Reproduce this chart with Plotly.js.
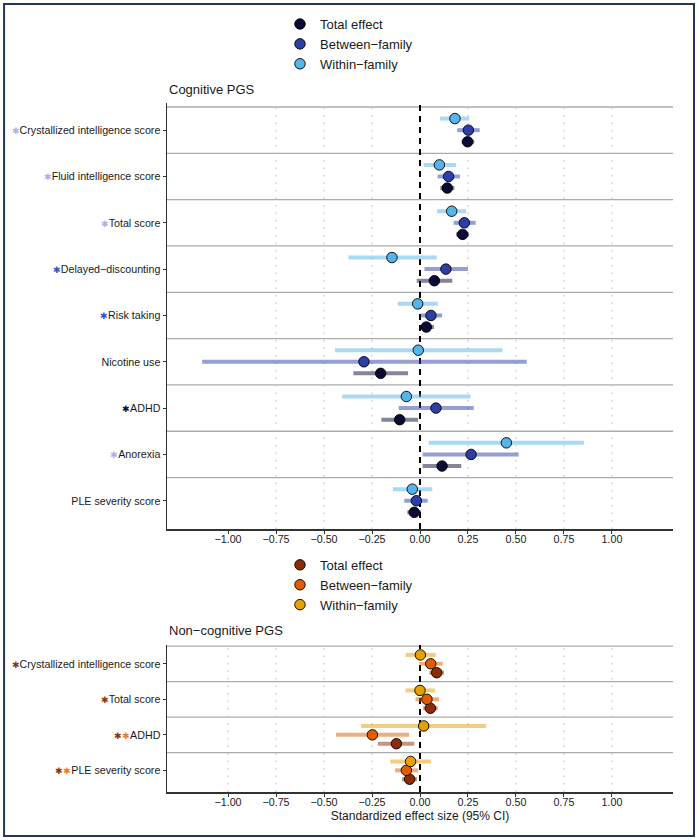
<!DOCTYPE html>
<html>
<head>
<meta charset="utf-8">
<script src="https://cdn.plot.ly/plotly-3.0.1.min.js"></script>
<style>
  body { margin: 0; background: #fff; }
  #chart { width: 698px; height: 840px; }
</style>
</head>
<body>
<div id="chart"></div>
<script>
// Outcomes (top to bottom) and significance markers
const cogOutcomes = ['Crystallized intelligence score', 'Fluid intelligence score', 'Total score',
  'Delayed\u2212discounting', 'Risk taking', 'Nicotine use', 'ADHD', 'Anorexia', 'PLE severity score'];
const cogSig = ['L', 'L', 'L', 'B', 'B', '', 'T', 'L', ''];

const ncOutcomes = ['Crystallized intelligence score', 'Total score', 'ADHD', 'PLE severity score'];
const ncSig = ['T', 'T', 'TB', 'TB'];

// Cognitive PGS estimates (standardized effect, 95% CI)
const cogTotal   = [0.248, 0.142, 0.222, 0.075, 0.033, -0.205, -0.106, 0.115, -0.030];
const cogTotalLo = [0.217, 0.106, 0.188, -0.017, -0.005, -0.347, -0.201, 0.014, -0.066];
const cogTotalHi = [0.283, 0.179, 0.255, 0.168, 0.073, -0.062, -0.010, 0.215, 0.005];

const cogBetween   = [0.252, 0.149, 0.231, 0.135, 0.057, -0.292, 0.083, 0.266, -0.019];
const cogBetweenLo = [0.194, 0.092, 0.175, 0.023, 0.002, -1.135, -0.111, 0.014, -0.082];
const cogBetweenHi = [0.311, 0.208, 0.290, 0.250, 0.115, 0.556, 0.280, 0.514, 0.040];

const cogWithin   = [0.182, 0.101, 0.165, -0.146, -0.012, -0.009, -0.071, 0.450, -0.040];
const cogWithinLo = [0.104, 0.019, 0.089, -0.372, -0.116, -0.443, -0.405, 0.045, -0.141];
const cogWithinHi = [0.257, 0.188, 0.240, 0.087, 0.092, 0.429, 0.264, 0.854, 0.064];

// Non-cognitive PGS estimates
const ncTotal   = [0.087, 0.054, -0.123, -0.054];
const ncTotalLo = [0.049, 0.017, -0.219, -0.094];
const ncTotalHi = [0.125, 0.092, -0.030, -0.016];

const ncBetween   = [0.056, 0.036, -0.248, -0.071];
const ncBetweenLo = [-0.004, -0.023, -0.438, -0.130];
const ncBetweenHi = [0.118, 0.099, -0.057, -0.010];

const ncWithin   = [0.002, 0.000, 0.019, -0.049];
const ncWithinLo = [-0.075, -0.075, -0.307, -0.155];
const ncWithinHi = [0.082, 0.078, 0.344, 0.057];

const xTicks = [-1, -0.75, -0.5, -0.25, 0, 0.25, 0.5, 0.75, 1];

const cogColors = { total: '#0a0a36', between: '#2d3fa6', within: '#56b4e9' };
const ncColors = { total: '#8b2c04', between: '#df5d02', within: '#e6a000' };
const starColors = { L: '#b9a8ee', B: '#3a4fc0', T: '#0a0a36' };
const ncStarColors = { T: '#8b3410', B: '#f07a20' };

function hexA(hex, a) {
  const n = parseInt(hex.slice(1), 16);
  return `rgba(${n >> 16},${(n >> 8) & 255},${n & 255},${a})`;
}

function fmt(v) {
  return (v < 0 ? '\u2212' : '') + Math.abs(v).toFixed(2);
}

function starLabel(name, sig, map) {
  const stars = sig.split('').map(k =>
    `<span style="color:${map[k]};font-size:8.5px">\u2731</span>`).join('');
  return stars + name;
}

function makeTrace(name, est, lo, hi, color, offset, xa, ya, legend) {
  return {
    x: est,
    y: est.map((_, i) => i + offset),
    type: 'scatter',
    mode: 'markers',
    name: name,
    xaxis: xa,
    yaxis: ya,
    legend: legend,
    marker: { size: 10.5, color: color, line: { color: '#000', width: 0.9 } },
    error_x: {
      type: 'data', symmetric: false,
      array: est.map((v, i) => hi[i] - v),
      arrayminus: est.map((v, i) => v - lo[i]),
      color: hexA(color, 0.5), thickness: 4, width: 0
    },
    hoverinfo: 'x+name'
  };
}

const traces = [
  makeTrace('Total effect', cogTotal, cogTotalLo, cogTotalHi, cogColors.total, 0.25, 'x', 'y', 'legend'),
  makeTrace('Between\u2212family', cogBetween, cogBetweenLo, cogBetweenHi, cogColors.between, 0, 'x', 'y', 'legend'),
  makeTrace('Within\u2212family', cogWithin, cogWithinLo, cogWithinHi, cogColors.within, -0.25, 'x', 'y', 'legend'),
  makeTrace('Total effect', ncTotal, ncTotalLo, ncTotalHi, ncColors.total, 0.25, 'x2', 'y2', 'legend2'),
  makeTrace('Between\u2212family', ncBetween, ncBetweenLo, ncBetweenHi, ncColors.between, 0, 'x2', 'y2', 'legend2'),
  makeTrace('Within\u2212family', ncWithin, ncWithinLo, ncWithinHi, ncColors.within, -0.25, 'x2', 'y2', 'legend2')
];

// separators, dotted grid and the zero line
const shapes = [];
function panelShapes(n, xr, yr, gridVals) {
  for (let k = 0; k < n; k++) {
    shapes.push({ type: 'line', layer: 'below', xref: xr + ' domain', yref: yr,
      x0: 0, x1: 1, y0: k - 0.5, y1: k - 0.5, line: { color: '#ababab', width: 1.3 } });
  }
  gridVals.forEach(v => {
    shapes.push({ type: 'line', layer: 'below', xref: xr, yref: yr + ' domain',
      x0: v, x1: v, y0: 0, y1: 1, line: { color: '#c4c4c4', width: 1.2, dash: '1.5px,6px' } });
  });
  shapes.push({ type: 'line', layer: 'below', xref: xr, yref: yr + ' domain',
    x0: 0, x1: 0, y0: 0, y1: 1, line: { color: '#000', width: 2, dash: '6px,5px' } });
}
panelShapes(cogOutcomes.length, 'x', 'y', xTicks.filter(v => v > -1 && v !== 0));
panelShapes(ncOutcomes.length, 'x2', 'y2', xTicks.filter(v => v !== 0));

// outer frame
shapes.push({ type: 'rect', xref: 'paper', yref: 'paper',
  x0: -0.322, x1: 1.0415, y0: -0.0638, y1: 1.1437,
  line: { color: '#24365f', width: 2 }, fillcolor: 'rgba(0,0,0,0)' });

const font = { family: 'Liberation Sans, Arial, sans-serif', size: 10.7, color: '#1a1a1a' };

const xAxisBase = {
  range: [-1.318, 1.318],
  tickmode: 'array', tickvals: xTicks, ticktext: xTicks.map(fmt),
  showgrid: false, zeroline: false,
  showline: true, linecolor: '#333', linewidth: 1.5,
  ticks: 'outside', ticklen: 3, tickcolor: '#333', tickwidth: 1,
  ticklabelstandoff: -3,
  tickfont: { size: 10.7, color: '#1a1a1a' },
  fixedrange: true
};
const yAxisBase = {
  showgrid: false, zeroline: false,
  showline: true, linecolor: '#333', linewidth: 1.5,
  ticks: 'outside', ticklen: 3, tickcolor: '#333', tickwidth: 1,
  tickfont: { size: 10.7, color: '#1a1a1a' },
  tickmode: 'array',
  fixedrange: true
};

const layout = {
  width: 698, height: 840,
  margin: { l: 167, r: 25, t: 103, b: 48, autoexpand: false },
  paper_bgcolor: '#fff', plot_bgcolor: '#fff',
  font: font,
  showlegend: true,
  xaxis: Object.assign({}, xAxisBase, { anchor: 'y' }),
  yaxis: Object.assign({}, yAxisBase, {
    domain: [0.3817, 1], range: [8.61, -0.586], anchor: 'x',
    tickvals: cogOutcomes.map((_, i) => i),
    ticktext: cogOutcomes.map((o, i) => starLabel(o, cogSig[i], starColors))
  }),
  xaxis2: Object.assign({}, xAxisBase, {
    anchor: 'y2',
    title: { text: 'Standardized effect size (95% CI)', font: { size: 12, color: '#1a1a1a' }, standoff: 4 }
  }),
  yaxis2: Object.assign({}, yAxisBase, {
    domain: [0, 0.2134], range: [3.61, -0.53], anchor: 'x2',
    tickvals: ncOutcomes.map((_, i) => i),
    ticktext: ncOutcomes.map((o, i) => starLabel(o, ncSig[i], ncStarColors))
  }),
  legend: {
    x: 0.2233, y: 1.1364, xanchor: 'left', yanchor: 'top',
    bgcolor: 'rgba(0,0,0,0)', font: { size: 13, color: '#1a1a1a' },
    itemwidth: 30, tracegroupgap: 0
  },
  legend2: {
    x: 0.2233, y: 0.3514, xanchor: 'left', yanchor: 'top',
    bgcolor: 'rgba(0,0,0,0)', font: { size: 13, color: '#1a1a1a' },
    itemwidth: 30, tracegroupgap: 0
  },
  annotations: [
    { text: 'Cognitive PGS', xref: 'paper', yref: 'paper', x: 0, y: 1.0203,
      xanchor: 'left', yanchor: 'middle', showarrow: false, font: { size: 13, color: '#1a1a1a' } },
    { text: 'Non\u2212cognitive PGS', xref: 'paper', yref: 'paper', x: 0, y: 0.2351,
      xanchor: 'left', yanchor: 'middle', showarrow: false, font: { size: 13, color: '#1a1a1a' } }
  ],
  shapes: shapes
};

Plotly.newPlot('chart', traces, layout, { displayModeBar: false, staticPlot: true });
</script>
</body>
</html>
